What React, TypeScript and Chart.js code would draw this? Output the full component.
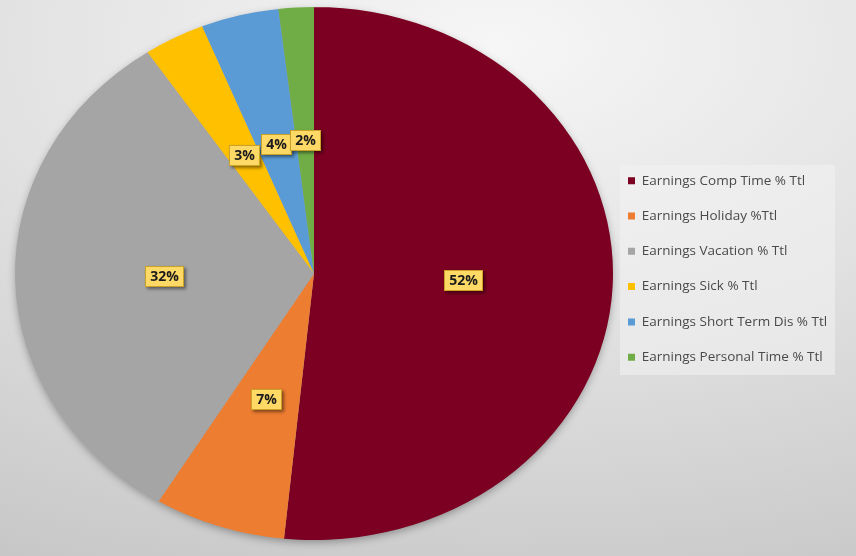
import { useEffect, useRef } from 'react';
import { Chart, registerables } from 'chart.js';

Chart.register(...registerables);

const categories = [
  'Earnings Comp Time % Ttl',
  'Earnings Holiday %Ttl',
  'Earnings Vacation % Ttl',
  'Earnings Sick % Ttl',
  'Earnings Short Term Dis % Ttl',
  'Earnings Personal Time % Ttl',
];
const shares = [51.6, 7.1, 31.9, 3.3, 4.2, 1.9];
const sliceColors = ['#7b0021', '#ed7d31', '#a5a5a5', '#ffc000', '#5b9bd5', '#70ad47'];

const ELLIPSE = { cx: 314, cy: 273.5, rx: 299, ry: 266.5 };
const LEGEND_BOX = { x: 620, y: 165, w: 215, h: 210 };

export default function App() {
  const ref = useRef<HTMLCanvasElement>(null);

  useEffect(() => {
    if (!ref.current) return;
    const total = shares.reduce((a, b) => a + b, 0);

    const ellipsePlugin = {
      id: 'ellipsePie',
      afterLayout(chart: any) {
        const lg = chart.legend;
        const pad = lg.options.labels.padding;
        const fs = lg.options.labels.font.size;
        lg.left = LEGEND_BOX.x + 8 - pad;
        lg.top = LEGEND_BOX.y + 15.7 - fs / 2 - pad;
        lg.right = 856;
        lg.bottom = 556;
        lg.width = lg.right - lg.left;
        lg.height = lg.bottom - lg.top;
      },
      beforeDraw(chart: any) {
        const ctx = chart.ctx;
        ctx.save();
        ctx.fillStyle = 'rgba(243,243,243,0.55)';
        ctx.fillRect(LEGEND_BOX.x, LEGEND_BOX.y, LEGEND_BOX.w, LEGEND_BOX.h);
        ctx.restore();
      },
      beforeDatasetsDraw(chart: any) {
        const meta = chart.getDatasetMeta(0);
        const a0 = meta.data[0];
        const { x, y, outerRadius: r } = a0.getProps(['x', 'y', 'outerRadius'], true);
        const ctx = chart.ctx;
        ctx.save();
        ctx.shadowColor = 'rgba(0,0,0,0.35)';
        ctx.shadowBlur = 8;
        ctx.shadowOffsetY = 3;
        ctx.beginPath();
        ctx.ellipse(ELLIPSE.cx, ELLIPSE.cy, ELLIPSE.rx - 1, ELLIPSE.ry - 1, 0, 0, Math.PI * 2);
        ctx.fillStyle = '#a5a5a5';
        ctx.fill();
        ctx.restore();
        ctx.save();
        ctx.translate(ELLIPSE.cx, ELLIPSE.cy);
        ctx.scale(ELLIPSE.rx / r, ELLIPSE.ry / r);
        ctx.translate(-x, -y);
      },
      afterDatasetsDraw(chart: any) {
        const ctx = chart.ctx;
        ctx.restore();
        const meta = chart.getDatasetMeta(0);
        const a0 = meta.data[0];
        const { x, y, outerRadius: r } = a0.getProps(['x', 'y', 'outerRadius'], true);
        ctx.save();
        ctx.font = 'bold 14px "Open Sans", sans-serif';
        ctx.textAlign = 'center';
        ctx.textBaseline = 'middle';
        meta.data.forEach((arc: any, i: number) => {
          const p = arc.tooltipPosition(true);
          const X = ELLIPSE.cx + ((p.x - x) * ELLIPSE.rx) / r;
          const Y = ELLIPSE.cy + ((p.y - y) * ELLIPSE.ry) / r;
          const txt = Math.round((shares[i] / total) * 100) + '%';
          const w = Math.round(ctx.measureText(txt).width + 10);
          const h = 21;
          const bx = Math.round(X - w / 2);
          const by = Math.round(Y - h / 2);
          ctx.shadowColor = 'rgba(0,0,0,0.45)';
          ctx.shadowBlur = 3;
          ctx.shadowOffsetX = 2;
          ctx.shadowOffsetY = 2;
          ctx.fillStyle = '#ffd966';
          ctx.fillRect(bx, by, w, h);
          ctx.shadowColor = 'transparent';
          ctx.strokeStyle = '#c9a227';
          ctx.lineWidth = 1;
          ctx.strokeRect(bx + 0.5, by + 0.5, w - 1, h - 1);
          ctx.fillStyle = '#1a1a1a';
          ctx.fillText(txt, bx + w / 2, by + h / 2 + 1);
        });
        ctx.restore();
      },
    };

    const chart = new Chart(ref.current, {
      type: 'pie',
      data: {
        labels: categories,
        datasets: [
          {
            data: shares,
            backgroundColor: sliceColors,
            borderWidth: 0,
          },
        ],
      },
      options: {
        responsive: false,
        animation: false,
        devicePixelRatio: 1,
        layout: { padding: { top: 7, bottom: 16, left: 10, right: 10 } },
        plugins: {
          tooltip: { enabled: false },
          legend: {
            position: 'right',
            align: 'start',
            labels: {
              boxWidth: 7,
              boxHeight: 7,
              padding: 21.8,
              color: '#4a4a4a',
              font: { size: 13.5, family: '"Open Sans", sans-serif' },
            },
          },
        },
      },
      plugins: [ellipsePlugin],
    } as any);

    return () => chart.destroy();
  }, []);

  return (
    <div
      style={{
        position: 'fixed',
        left: 0,
        top: 0,
        width: 856,
        height: 556,
        background:
          'radial-gradient(ellipse 130% 110% at 58% 8%, #f6f6f6 0%, #e2e2e2 45%, #c4c4c4 100%)',
      }}
    >
      <canvas ref={ref} width={856} height={556} />
    </div>
  );
}
